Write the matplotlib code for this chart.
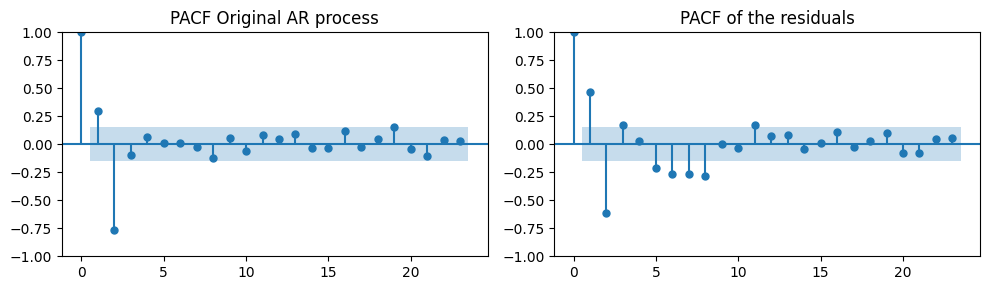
import numpy as np
import matplotlib
matplotlib.use("Agg")
import matplotlib.pyplot as plt

lags = np.arange(24)
pacf_orig = [1.0, 0.296, -0.766, -0.093, 0.069, 0.015, 0.015, -0.021, -0.126, 0.060,
             -0.063, 0.087, 0.045, 0.096, -0.030, -0.030, 0.117, -0.021, 0.051, 0.150,
             -0.045, -0.102, 0.036, 0.027]
pacf_resid = [1.0, 0.464, -0.614, 0.168, 0.027, -0.210, -0.263, -0.263, -0.281, 0.006,
              -0.030, 0.168, 0.078, 0.087, -0.039, 0.015, 0.114, -0.021, 0.027, 0.105,
              -0.075, -0.075, 0.051, 0.060]
conf_band = 0.152
titles = ["PACF Original AR process", "PACF of the residuals"]
yticks = [-1.0, -0.75, -0.5, -0.25, 0.0, 0.25, 0.5, 0.75, 1.0]

fig, axes = plt.subplots(1, 2, figsize=(9.9, 2.9), dpi=100)
for ax, vals, title in zip(axes, [pacf_orig, pacf_resid], titles):
    vals = np.asarray(vals)
    ax.vlines(lags, [0], vals, color="C0")
    ax.axhline(0, color="C0")
    ax.plot(lags, vals, marker="o", linestyle="None", markersize=5, color="C0")
    lo = lags[1:].astype(float)
    lo[0] -= 0.5
    lo[-1] += 0.5
    ax.fill_between(lo, -conf_band, conf_band, alpha=0.25, linewidth=0, color="C0")
    ax.set_ylim(-1, 1)
    ax.set_yticks(yticks)
    ax.set_yticklabels([f"{t:.2f}".replace("-", "\u2212") for t in yticks])
    ax.set_title(title)
    ax.set_xlim(-1.175, 24.675)

fig.subplots_adjust(left=0.0626, right=0.9899, bottom=0.1172, top=0.888, wspace=0.156)
fig.savefig("out.png", dpi=100)
